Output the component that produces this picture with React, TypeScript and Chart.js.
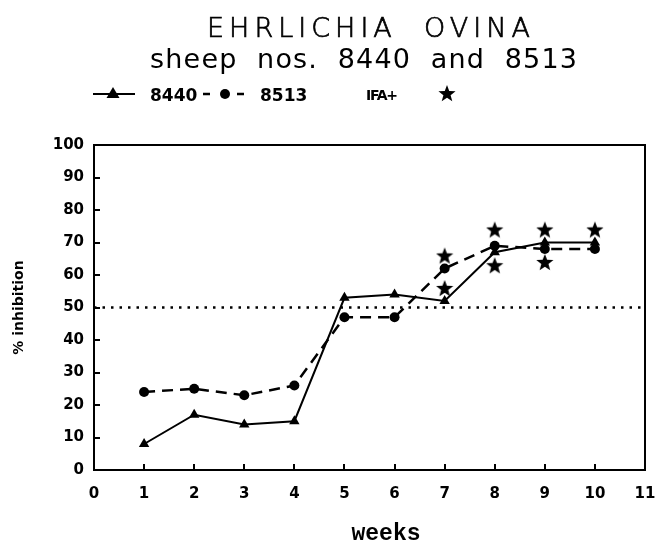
import React, { useEffect, useRef } from 'react';
import { Chart, registerables } from 'chart.js';

Chart.register(...registerables);

// ---- data ----
const weeks = [1, 2, 3, 4, 5, 6, 7, 8, 9, 10];
const sheep8440 = [8, 17, 14, 15, 53, 54, 52, 67, 70, 70];
const sheep8513 = [24, 25, 23, 26, 47, 47, 62, 69, 68, 68];
const ifaWeeks = [7, 7, 8, 8, 9, 9, 10];
const ifaValues = [66, 56, 74, 63, 74, 64, 74];
const thresholdX = [0, 11];
const threshold = 50;
const xMin = 0, xMax = 11, xStep = 1;
const yMin = 0, yMax = 100, yStep = 10;
const titleText = 'EHRLICHIA  OVINA';
const subtitleText = 'sheep  nos.  8440  and  8513';
const legendLabels = ['8440', '8513', 'IFA+'];
const xTitle = 'weeks';
const yTitle = '% inhibition';

function starPath(ctx: CanvasRenderingContext2D, cx: number, cy: number, R: number) {
  const r = R * 0.42;
  ctx.beginPath();
  for (let i = 0; i < 10; i++) {
    const rad = i % 2 === 0 ? R : r;
    const a = -Math.PI / 2 + (i * Math.PI) / 5;
    const px = cx + rad * Math.cos(a);
    const py = cy + rad * Math.sin(a);
    if (i === 0) ctx.moveTo(px, py);
    else ctx.lineTo(px, py);
  }
  ctx.closePath();
}

function makeStar(size: number): HTMLCanvasElement {
  const c = document.createElement('canvas');
  c.width = size;
  c.height = size;
  const ctx = c.getContext('2d')!;
  ctx.fillStyle = '#000';
  starPath(ctx, size / 2, size / 2 + size * 0.05, size / 2);
  ctx.fill();
  return c;
}

function fitText(ctx: any, text: string, left: number, baseline: number, target: number, strokeW = 0) {
  ctx.letterSpacing = '0px';
  const w = ctx.measureText(text).width;
  const ls = (target - w) / Math.max(1, text.length - 1);
  ctx.letterSpacing = ls + 'px';
  ctx.textAlign = 'left';
  ctx.textBaseline = 'alphabetic';
  ctx.fillText(text, left, baseline);
  if (strokeW > 0) {
    ctx.lineWidth = strokeW;
    ctx.strokeText(text, left, baseline);
  }
  ctx.letterSpacing = '0px';
}

const decorPlugin = {
  id: 'decor',
  beforeDatasetsDraw(chart: any) {
    const { ctx, chartArea, scales } = chart;
    ctx.save();
    ctx.strokeStyle = '#000';
    ctx.lineWidth = 2;
    ctx.strokeRect(chartArea.left, chartArea.top, chartArea.right - chartArea.left, chartArea.bottom - chartArea.top);
    for (let v = xMin + xStep; v < xMax; v += xStep) {
      const px = Math.round(scales.x.getPixelForValue(v));
      ctx.beginPath();
      ctx.moveTo(px, chartArea.bottom);
      ctx.lineTo(px, chartArea.bottom - 6);
      ctx.stroke();
    }
    for (let v = yMin + yStep; v < yMax; v += yStep) {
      const py = Math.round(scales.y.getPixelForValue(v));
      ctx.beginPath();
      ctx.moveTo(chartArea.left, py);
      ctx.lineTo(chartArea.left + 6, py);
      ctx.stroke();
    }
    ctx.restore();
  },
  afterDraw(chart: any) {
    const { ctx } = chart;
    ctx.save();
    ctx.fillStyle = '#000';
    ctx.strokeStyle = '#000';
    ctx.font = "200 27px 'DejaVu Sans'";
    fitText(ctx, titleText, 207, 37, 323, 0.7);
    ctx.font = "400 27px 'DejaVu Sans'";
    fitText(ctx, subtitleText, 150, 68, 427);

    // legend
    const ly = 94;
    ctx.lineWidth = 2;
    ctx.beginPath();
    ctx.moveTo(93, ly);
    ctx.lineTo(135, ly);
    ctx.stroke();
    ctx.beginPath();
    ctx.moveTo(113, ly - 7);
    ctx.lineTo(119.5, ly + 4);
    ctx.lineTo(106.5, ly + 4);
    ctx.closePath();
    ctx.fill();
    ctx.font = "bold 17px 'DejaVu Sans'";
    ctx.textAlign = 'left';
    ctx.textBaseline = 'alphabetic';
    ctx.fillText(legendLabels[0], 150, 101);
    ctx.lineWidth = 2.5;
    ctx.beginPath();
    ctx.moveTo(203, ly);
    ctx.lineTo(210, ly);
    ctx.moveTo(237, ly);
    ctx.lineTo(244, ly);
    ctx.stroke();
    ctx.beginPath();
    ctx.arc(225, ly, 5, 0, Math.PI * 2);
    ctx.fill();
    ctx.fillText(legendLabels[1], 260, 101);
    ctx.font = "bold 14px 'DejaVu Sans'";
    fitText(ctx, legendLabels[2], 366, 100, 32);
    starPath(ctx, 447, ly, 9);
    ctx.fill();

    // x title
    ctx.font = "bold 23px 'Liberation Mono'";
    ctx.textAlign = 'center';
    ctx.fillText(xTitle, 386, 540);
    ctx.restore();
  },
};

export default function App() {
  const ref = useRef<HTMLCanvasElement>(null);
  useEffect(() => {
    if (!ref.current) return;
    const star = makeStar(18);
    const chart = new Chart(ref.current, {
      type: 'line',
      data: {
        datasets: [
          {
            label: 'threshold',
            data: thresholdX.map((x) => ({ x, y: threshold })),
            borderColor: '#000',
            borderWidth: 2.5,
            borderDash: [2.5, 6],
            pointRadius: 0,
            fill: false,
          },
          {
            label: '8513',
            data: weeks.map((x, i) => ({ x, y: sheep8513[i] })),
            borderColor: '#000',
            backgroundColor: '#000',
            borderWidth: 2.5,
            borderDash: [11, 7],
            pointStyle: 'circle',
            pointRadius: 5,
            pointBorderWidth: 0,
            tension: 0,
          },
          {
            label: '8440',
            data: weeks.map((x, i) => ({ x, y: sheep8440[i] })),
            borderColor: '#000',
            backgroundColor: '#000',
            borderWidth: 2,
            pointStyle: 'triangle',
            pointRadius: 6,
            pointBorderWidth: 0,
            tension: 0,
          },
          {
            label: 'IFA+',
            data: ifaWeeks.map((x, i) => ({ x, y: ifaValues[i] })),
            showLine: false,
            pointStyle: star as any,
            pointRadius: 9,
          },
        ],
      },
      options: {
        animation: false,
        responsive: false,
        layout: { padding: { top: 145, right: 13, left: 0, bottom: 0 } },
        plugins: {
          legend: { display: false },
          title: { display: false },
          tooltip: { enabled: false },
        },
        scales: {
          x: {
            type: 'linear',
            min: xMin,
            max: xMax,
            grid: { display: false, drawTicks: false },
            border: { display: true, color: '#000', width: 2 },
            ticks: {
              stepSize: xStep,
              color: '#000',
              font: { family: 'DejaVu Sans', size: 15, weight: 'bold' },
              padding: 15,
              maxRotation: 0,
            },
            afterFit: (s: any) => {
              s.height = 74;
              s.paddingLeft = 0;
              s.paddingRight = 0;
            },
          },
          y: {
            type: 'linear',
            min: yMin,
            max: yMax,
            grid: { display: false, drawTicks: false },
            border: { display: true, color: '#000', width: 2 },
            ticks: {
              stepSize: yStep,
              color: '#000',
              font: { family: 'DejaVu Sans', size: 15, weight: 'bold' },
              padding: 10,
            },
            title: {
              display: true,
              text: yTitle,
              color: '#000',
              font: { family: 'DejaVu Sans', size: 14, weight: 'bold' },
              padding: { top: 11, bottom: 0 },
            },
            afterFit: (s: any) => {
              s.width = 94;
              s.paddingTop = 0;
              s.paddingBottom = 0;
            },
          },
        },
      },
      plugins: [decorPlugin],
    });
    return () => chart.destroy();
  }, []);
  return (
    <div style={{ position: 'fixed', left: 0, top: 0, width: 658, height: 544, background: '#fff' }}>
      <canvas ref={ref} width={658} height={544} style={{ display: 'block', width: 658, height: 544 }} />
    </div>
  );
}
